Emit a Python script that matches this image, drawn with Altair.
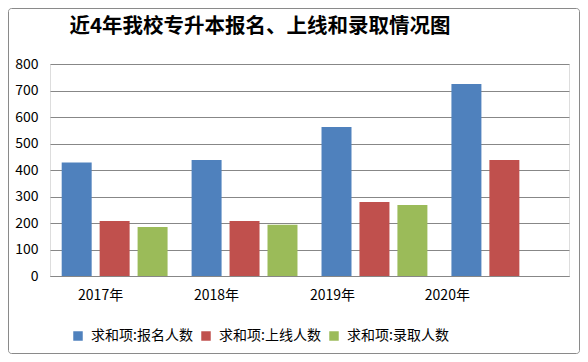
import altair as alt
import pandas as pd

years = ["2017年", "2018年", "2019年", "2020年"]
series = ["求和项:报名人数", "求和项:上线人数", "求和项:录取人数"]
baoming = [428, 438, 562, 725]
shangxian = [208, 208, 279, 438]
luqu = [185, 193, 268, None]
colors = ["#4F81BD", "#C0504D", "#9BBB59"]
y_ticks = [0, 100, 200, 300, 400, 500, 600, 700, 800]
title_text = "近4年我校专升本报名、上线和录取情况图"

rows = []
for i, yr in enumerate(years):
    for s, vals in zip(series, [baoming, shangxian, luqu]):
        if vals[i] is not None:
            rows.append({"年份": yr, "系列": s, "人数": vals[i]})
df = pd.DataFrame(rows)

FONT = "Noto Sans CJK SC"
GRID = "#878787"

x_label_offset = {
    "condition": [
        {"test": "datum.value === '2017年'", "value": -14},
        {"test": "datum.value === '2018年'", "value": -28},
        {"test": "datum.value === '2019年'", "value": -42},
        {"test": "datum.value === '2020年'", "value": -57},
    ],
    "value": 0,
}

bars = alt.Chart(df).mark_bar().encode(
    x=alt.X("年份:N", sort=years,
            scale=alt.Scale(paddingInner=0.185, paddingOuter=0.09),
            axis=alt.Axis(title=None, labelAngle=0, ticks=False, domain=True,
                          domainColor=GRID, labelFont=FONT, labelFontSize=14,
                          labelColor="black", labelPadding=12,
                          labelOffset=x_label_offset)),
    xOffset=alt.XOffset("系列:N", sort=series,
                        scale=alt.Scale(paddingInner=0.21, paddingOuter=0)),
    y=alt.Y("人数:Q", scale=alt.Scale(domain=[0, 800], nice=False),
            axis=alt.Axis(title=None, values=y_ticks, domain=False, ticks=False,
                          grid=True, gridColor=GRID, gridOpacity=1,
                          labelFont=FONT, labelFontSize=14, labelColor="black",
                          labelPadding=12)),
    color=alt.Color("系列:N", sort=series,
                    scale=alt.Scale(domain=series, range=colors),
                    legend=alt.Legend(title=None, orient="none", direction="horizontal",
                                      legendX=21, legendY=265, symbolType="square",
                                      symbolSize=90, symbolStrokeWidth=0,
                                      labelFont=FONT, labelFontSize=14,
                                      labelColor="black", labelOffset=6,
                                      columnPadding=6)),
)

border = alt.Chart(alt.Data(values=[{"b": 1}])).mark_rect(
    fill=None, stroke="#8a8a8a", strokeWidth=1, cornerRadius=3
).encode(
    x=alt.value(-41.5), x2=alt.value(529.5),
    y=alt.value(-55.5), y2=alt.value(289.5),
)

title = alt.Chart(alt.Data(values=[{"t": title_text}])).mark_text(
    font=FONT, fontSize=20.5, fontWeight="bold", color="black",
    align="center", baseline="middle"
).encode(
    text="t:N", x=alt.value(210), y=alt.value(-37),
)

chart = alt.layer(border, title, bars).properties(
    width=519,
    height=212,
    autosize=alt.AutoSizeParams(type="none"),
    padding={"left": 42, "top": 56, "right": 11, "bottom": 78},
).configure_view(stroke=None).configure(background="white")

chart.save("out.html", embed_options={"renderer": "svg", "actions": False})
